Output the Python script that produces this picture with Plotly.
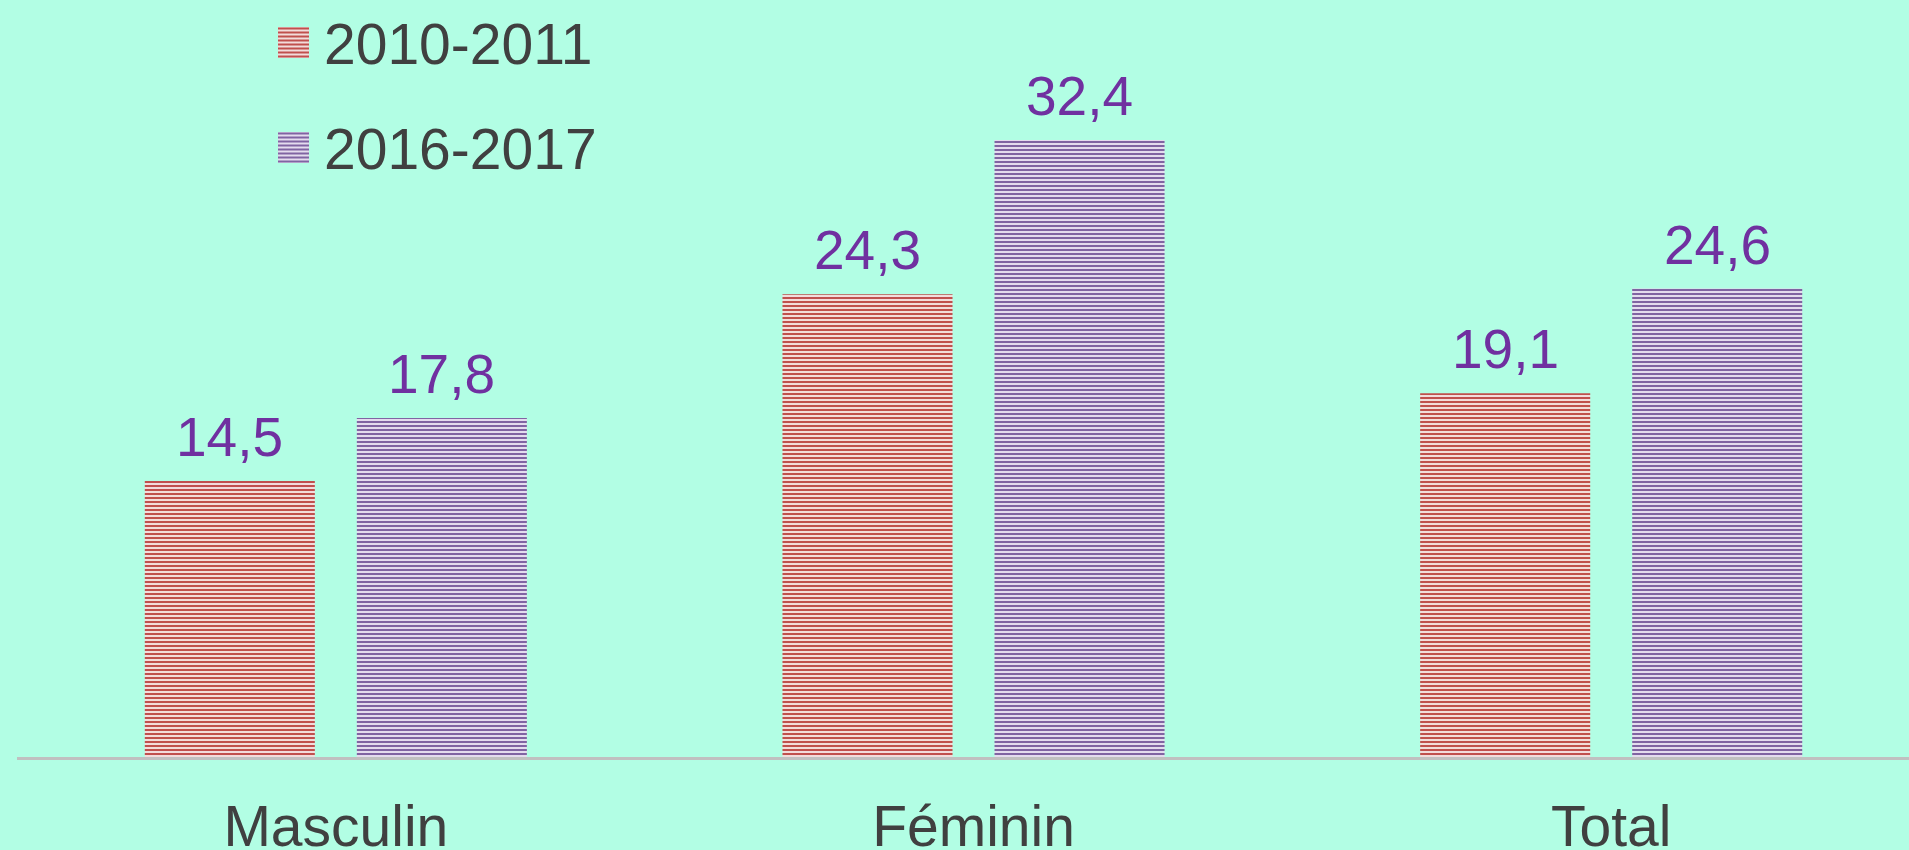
import plotly.graph_objects as go

categories = ["Masculin", "Féminin", "Total"]
series_names = ["2010-2011", "2016-2017"]
values_2010 = [14.5, 24.3, 19.1]
values_2016 = [17.8, 32.4, 24.6]
labels_2010 = ["14,5", "24,3", "19,1"]
labels_2016 = ["17,8", "32,4", "24,6"]

W, H = 1909, 850
ML, MR, MT, MB = 17, 0, 0, 93
PW, PH = W - ML - MR, H - MT - MB

FONT = "Liberation Sans, Arial, sans-serif"
BG = "#B2FEE4"
RED_DARK, RED_LIGHT = "#C0504D", "#F2DCDB"
PUR_DARK, PUR_LIGHT = "#8064A2", "#E4DCEE"
LABEL_COLOR = "#7030A0"
TEXT_COLOR = "#404040"

fig = go.Figure()
for name, vals, dark, light in [
    (series_names[0], values_2010, RED_DARK, RED_LIGHT),
    (series_names[1], values_2016, PUR_DARK, PUR_LIGHT),
]:
    fig.add_trace(go.Bar(
        x=categories, y=vals, name=name, showlegend=False,
        marker=dict(color=light, line=dict(width=0), opacity=1,
                    pattern=dict(shape="-", fgcolor=dark, bgcolor=light,
                                 fgopacity=1, fillmode="replace",
                                 size=4, solidity=0.5)),
        hoverinfo="skip",
    ))

# value labels
annotations = []
for vals, labs, off in [(values_2010, labels_2010, -0.166), (values_2016, labels_2016, 0.166)]:
    for i, (v, t) in enumerate(zip(vals, labs)):
        annotations.append(dict(
            x=i + off, y=v, xref="x", yref="y", text=t, showarrow=False,
            yanchor="bottom", yshift=11,
            font=dict(family=FONT, size=55, color=LABEL_COLOR),
        ))

def px_x(p):
    return (p - ML) / PW

def px_y(p):
    return 1 - (p - MT) / PH

# manual legend
shapes = []
legend_rows = [(series_names[0], RED_DARK, RED_LIGHT, 27), (series_names[1], PUR_DARK, PUR_LIGHT, 132)]
for name, dark, light, top in legend_rows:
    x0, x1 = 278, 309
    shapes.append(dict(type="rect", xref="paper", yref="paper",
                       x0=px_x(x0), x1=px_x(x1), y0=px_y(top + 31), y1=px_y(top),
                       fillcolor=light, line=dict(width=0), layer="above"))
    for k in range(8):
        yy = top + 1.5 + 4 * k
        shapes.append(dict(type="line", xref="paper", yref="paper",
                           x0=px_x(x0), x1=px_x(x1), y0=px_y(yy), y1=px_y(yy),
                           line=dict(color=dark, width=2), layer="above"))
    annotations.append(dict(
        x=px_x(322), y=px_y(top + 17), xref="paper", yref="paper",
        text=name, showarrow=False, xanchor="left", yanchor="middle",
        font=dict(family=FONT, size=57, color=TEXT_COLOR),
    ))

fig.update_layout(
    width=W, height=H,
    margin=dict(l=ML, r=MR, t=MT, b=MB, pad=0),
    paper_bgcolor=BG, plot_bgcolor=BG,
    barmode="group", bargap=0.335, bargroupgap=0.198,
    annotations=annotations, shapes=shapes,
    font=dict(family=FONT, color=TEXT_COLOR),
)
fig.update_xaxes(
    range=[-0.5, 2.467], showgrid=False, zeroline=False,
    showline=True, linecolor="#C0C0C0", linewidth=3,
    ticks="outside", ticklen=18, tickcolor="rgba(0,0,0,0)",
    tickfont=dict(family=FONT, size=57, color=TEXT_COLOR),
    automargin=False, fixedrange=True,
)
fig.update_yaxes(
    range=[0, 757 / 19.04], visible=False, showgrid=False, zeroline=False,
    automargin=False, fixedrange=True,
)

fig.write_html(
    "out.html",
    config={"displayModeBar": False},
    post_script="document.body.style.margin='0';document.body.style.overflow='hidden';",
)
